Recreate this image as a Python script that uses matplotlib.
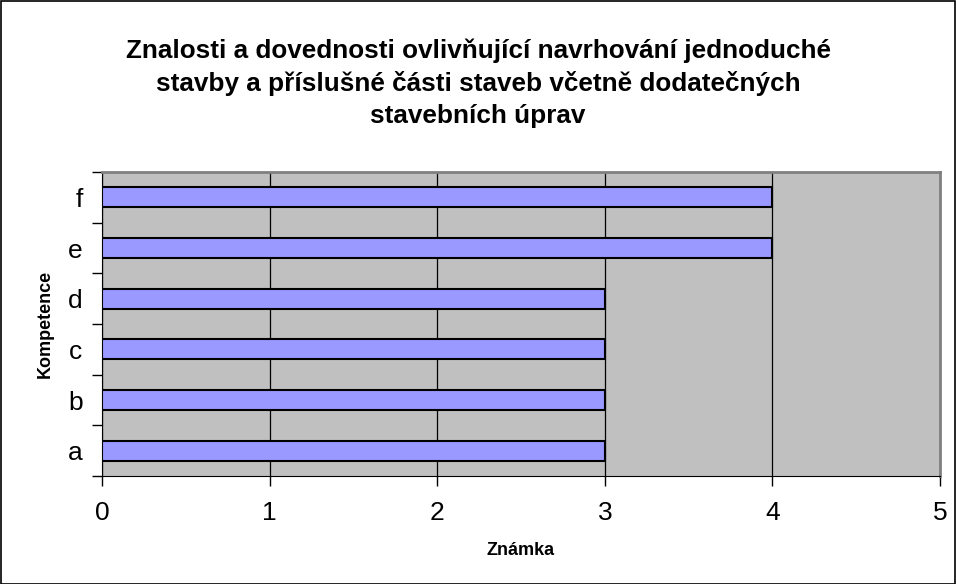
import matplotlib.pyplot as plt
from matplotlib.patches import Rectangle

categories = ["a", "b", "c", "d", "e", "f"]
values = [3, 3, 3, 3, 4, 4]
title = ("Znalosti a dovednosti ovlivňující navrhování jednoduché\n"
         "stavby a příslušné části staveb včetně dodatečných\n"
         "stavebních úprav")

plt.rcParams['font.family'] = ['Liberation Sans', 'DejaVu Sans']

fig = plt.figure(figsize=(9.56, 5.84), dpi=100)
ax = fig.add_axes([102 / 956, 1 - 476 / 584, 838 / 956, 304 / 584])
ax.set_facecolor("#C0C0C0")

pos = list(range(len(categories)))
ax.barh(pos, values, height=0.4, color="#9999FF", edgecolor="black", linewidth=1.5, zorder=3)

ax.set_xlim(0, 5)
ax.set_ylim(-0.5, len(categories) - 0.5)
ax.set_xticks(range(6))
ax.grid(axis="x", color="black", linewidth=0.9, zorder=1)

ax.set_yticks(pos)
ax.set_yticklabels(categories, fontsize=19)
ax.set_yticks([p - 0.5 for p in pos] + [len(categories) - 0.5], minor=True)
ax.tick_params(axis="y", which="major", length=0, pad=14)
ax.tick_params(axis="y", which="minor", length=7, width=1, direction="out")
ax.tick_params(axis="x", length=7, width=1, direction="out", labelsize=19, pad=11)

for side in ["top", "right"]:
    ax.spines[side].set_color("#808080")
    ax.spines[side].set_linewidth(2)
ax.spines["left"].set_color("black")
ax.spines["bottom"].set_color("black")

ax.set_xlabel("Známka", fontsize=13, fontweight="bold", labelpad=12)
ax.set_ylabel("Kompetence", fontsize=13, fontweight="bold", labelpad=10)

fig.text(0.5, 1 - 83 / 584, title, ha="center", va="center", fontsize=18.8,
         fontweight="bold", linespacing=1.40)

fig.patches.append(Rectangle((0.5 / 956, 0.5 / 584), 1 - 1.5 / 956, 1 - 1.5 / 584,
                             transform=fig.transFigure, fill=False,
                             edgecolor="black", linewidth=1.2))

fig.savefig("out.png", dpi=100)
